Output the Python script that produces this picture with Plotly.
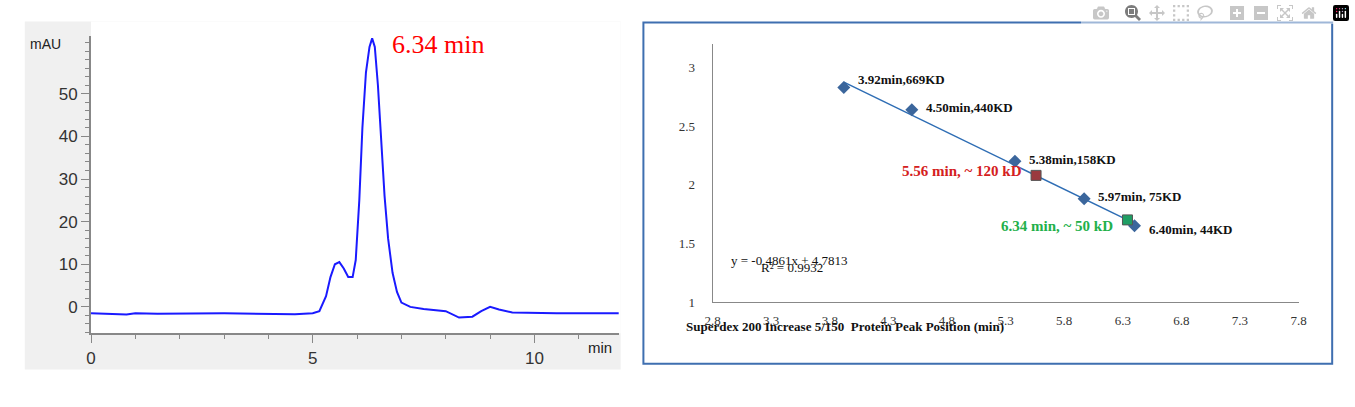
import plotly.graph_objects as go

# chromatogram (left)
time_min = [0, 0.8, 1.0, 1.5, 3.0, 4.6, 5.0, 5.15, 5.3, 5.4, 5.5, 5.6, 5.7, 5.8, 5.9, 5.97, 6.05, 6.12,
            6.2, 6.28, 6.34, 6.4, 6.47, 6.55, 6.62, 6.7, 6.8, 6.9, 7.0, 7.2, 7.5, 8.0, 8.3, 8.6, 8.8,
            9.0, 9.2, 9.5, 10.5, 12]
mau = [-1.5, -1.8, -1.5, -1.6, -1.5, -1.7, -1.5, -1.0, 2.5, 7.0, 10.0, 10.5, 9.0, 7.0, 7.0, 11.0,
       25.0, 42.0, 55.0, 61.0, 63.0, 61.0, 52.0, 38.0, 26.0, 16.0, 8.0, 3.5, 1.0, 0.0, -0.5, -1.0,
       -2.5, -2.3, -1.0, 0.0, -0.6, -1.3, -1.5, -1.5]

# calibration (right)
std_pos = [3.92, 4.50, 5.38, 5.97, 6.40]
std_logmw = [2.83, 2.64, 2.20, 1.88, 1.65]
std_labels = ["3.92min,669KD", "4.50min,440KD", "5.38min,158KD", "5.97min, 75KD", "6.40min, 44KD"]
sample_pos = [5.56, 6.34]
sample_logmw = [2.08, 1.70]
sample_labels = ["5.56 min, ~ 120 kD", "6.34 min, ~ 50 kD"]
sample_colors = ["#9b3a3f", "#1f9e64"]
slope, intercept = -0.4861, 4.7813
fit_x = [3.92, 6.40]

W, H = 1355, 407
px = lambda v: v / W
py = lambda v: 1 - v / H

fig = go.Figure()
fig.add_trace(go.Scatter(x=time_min, y=mau, mode="lines", line=dict(color="#1a1aff", width=2),
                         xaxis="x", yaxis="y", showlegend=False))
fig.add_trace(go.Scatter(x=fit_x, y=[slope * v + intercept for v in fit_x], mode="lines",
                         line=dict(color="#2e6db4", width=1.5), xaxis="x2", yaxis="y2", showlegend=False))
fig.add_trace(go.Scatter(x=std_pos, y=std_logmw, mode="markers",
                         marker=dict(symbol="diamond", size=10, color="#3b669c"),
                         xaxis="x2", yaxis="y2", showlegend=False))
fig.add_trace(go.Scatter(x=sample_pos, y=sample_logmw, mode="markers",
                         marker=dict(symbol="square", size=10, color=sample_colors,
                                     line=dict(color="#555", width=1)),
                         xaxis="x2", yaxis="y2", showlegend=False))

serif = "Liberation Serif"
ann = []
for x, y, t in zip(std_pos, std_logmw, std_labels):
    ann.append(dict(x=x, y=y, xref="x2", yref="y2", text="<b>%s</b>" % t, showarrow=False, xanchor="left",
                    xshift=12, yshift=8 if x < 4 else 2 if x < 6.2 else -4,
                    font=dict(family=serif, size=13, color="#111")))
for x, y, t, c in zip(sample_pos, sample_logmw, sample_labels, sample_colors):
    ann.append(dict(x=x, y=y, xref="x2", yref="y2", text="<b>%s</b>" % t, showarrow=False,
                    xanchor="right", xshift=-12, yshift=4 if c.startswith("#9") else -6,
                    font=dict(family=serif, size=15, color="#d42020" if c.startswith("#9") else "#22b04a")))
ann += [
    dict(x=px(730), y=py(266), xref="paper", yref="paper", text="y = -0.4861x + 4.7813", showarrow=False,
         xanchor="left", font=dict(family=serif, size=13, color="#111")),
    dict(x=px(760), y=py(283), xref="paper", yref="paper", text="R² = 0.9932", showarrow=False,
         xanchor="left", font=dict(family=serif, size=13, color="#111")),
    dict(x=px(1010), y=py(343), xref="paper", yref="paper",
         text="<b>Superdex 200 Increase 5/150  Protein Peak Position (min)</b>", showarrow=False,
         font=dict(family=serif, size=13, color="#111")),
    dict(x=6.34, y=63, xref="x", yref="y", text="6.34 min", showarrow=False, xanchor="left", xshift=18,
         yshift=-6, font=dict(family=serif, size=26, color="#ff0000")),
    dict(x=px(20), y=py(35), xref="paper", yref="paper", text="mAU", showarrow=False, xanchor="left",
         font=dict(family="Liberation Sans", size=14, color="#222")),
    dict(x=px(585), y=py(365), xref="paper", yref="paper", text="min", showarrow=False, xanchor="left",
         font=dict(family="Liberation Sans", size=15, color="#222")),
]

shapes = [
    dict(type="rect", xref="paper", yref="paper", x0=px(17), x1=px(620), y0=py(377), y1=py(22),
         fillcolor="#f0f0f0", line=dict(width=0), layer="below"),
    dict(type="rect", xref="paper", yref="paper", x0=px(84), x1=px(620), y0=py(340), y1=py(22),
         fillcolor="white", line=dict(width=0), layer="below"),
    dict(type="rect", xref="paper", yref="paper", x0=px(643), x1=px(1340), y0=py(371), y1=py(23),
         line=dict(color="#3f6fb0", width=2)),
]

fig.update_layout(
    width=W, height=H, margin=dict(l=0, r=0, t=0, b=0),
    paper_bgcolor="white", plot_bgcolor="rgba(0,0,0,0)",
    xaxis=dict(domain=[px(84), px(618)], range=[0, 11.9], tickvals=[0, 5, 10], ticks="outside",
               ticklen=8, tickcolor="#888", showline=True, linecolor="#888", linewidth=2,
               showgrid=False, zeroline=False, anchor="y",
               minor=dict(dtick=1, ticks="outside", ticklen=4, tickcolor="#888"),
               tickfont=dict(family="Liberation Sans", size=17, color="#333")),
    yaxis=dict(domain=[py(340), py(37)], range=[-6.2, 63.5], tickvals=[0, 10, 20, 30, 40, 50],
               ticks="outside", ticklen=8, tickcolor="#888", showline=True, linecolor="#888",
               linewidth=2, showgrid=False, zeroline=False, anchor="x",
               minor=dict(dtick=2, ticks="outside", ticklen=4, tickcolor="#888"),
               tickfont=dict(family="Liberation Sans", size=17, color="#333")),
    xaxis2=dict(domain=[px(713), px(1306)], range=[2.8, 7.8], dtick=0.5, tick0=2.8, showline=True,
                linecolor="#888", showgrid=False, zeroline=False, anchor="y2", ticks="",
                ticklabelstandoff=6, tickformat=".1f", tickfont=dict(family=serif, size=13, color="#333")),
    yaxis2=dict(domain=[py(308), py(45)], range=[1, 3.2], tickvals=[1, 1.5, 2, 2.5, 3], showline=True,
                linecolor="#888", showgrid=False, zeroline=False, anchor="x2", ticks="",
                ticklabelstandoff=14, tickfont=dict(family=serif, size=13, color="#333")),
    annotations=ann, shapes=shapes,
)
fig.write_html("out.html")

# drop the default page margin so the figure sits at the window's top-left
with open("out.html", encoding="utf-8") as f:
    page = f.read()
page = page.replace("<body>", '<body style="margin:0;overflow:hidden">', 1)
with open("out.html", "w", encoding="utf-8") as f:
    f.write(page)
